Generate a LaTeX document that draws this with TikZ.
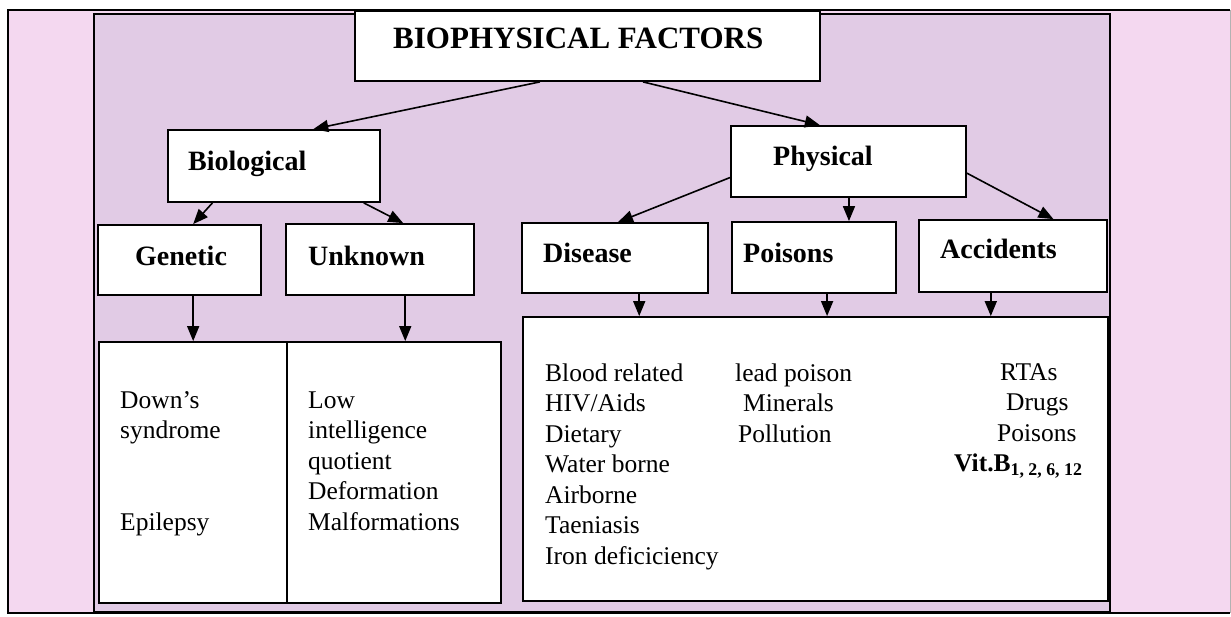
\documentclass[tikz,border=0pt]{standalone}
\usepackage{fontspec}
\setmainfont{Liberation Serif}
\usetikzlibrary{arrows.meta,calc}
\definecolor{pinkbg}{RGB}{244,216,240}
\definecolor{lavbg}{RGB}{225,203,229}
\begin{document}
\begin{tikzpicture}[x=1pt,y=-1pt,
  box/.style={draw=black, line width=1.8pt, fill=white, inner sep=0pt},
  lbl/.style={font=\fontsize{28}{32}\selectfont\bfseries, inner sep=0pt, anchor=base west},
  txt/.style={font=\fontsize{25.5}{30.5}\selectfont, inner sep=0pt, anchor=base west},
  arr/.style={line width=1.6pt, -{Triangle[length=15pt,width=12pt]}}]
\useasboundingbox (0,0) rectangle (1231,616);
\fill[white] (0,0) rectangle (1231,616);
\fill[pinkbg] (8,10) rectangle (1230,613);
\draw[black, line width=1.2pt] (1230,10) -- (8,10) -- (8,613) -- (1230,613);
\draw[gray!60, line width=0.8pt] (1230,10) -- (1230,613);
\filldraw[fill=lavbg, draw=black, line width=1.5pt] (94,14) rectangle (1110,612);

% boxes
\node[box, minimum width=465pt, minimum height=70pt] (title) at (587.5,46) {};
\node[box, minimum width=212pt, minimum height=72pt] (bio) at (274,166) {};
\node[box, minimum width=235pt, minimum height=71pt] (phys) at (848.5,161.5) {};
\node[box, minimum width=163pt, minimum height=70pt] (gen) at (179.5,260) {};
\node[box, minimum width=188pt, minimum height=71pt] (unk) at (380,259.5) {};
\node[box, minimum width=186pt, minimum height=70pt] (dis) at (615,258) {};
\node[box, minimum width=164pt, minimum height=71pt] (poi) at (814,257.5) {};
\node[box, minimum width=188pt, minimum height=72pt] (acc) at (1013,256) {};
\node[box, minimum width=402pt, minimum height=261pt] (bl) at (300,472.5) {};
\node[box, minimum width=585pt, minimum height=284pt] (br) at (815.5,459) {};
\draw[line width=1.5pt] ($(bl.north west)!0.468!(bl.north east)$) -- ($(bl.south west)!0.468!(bl.south east)$);

% labels
\node[lbl, font=\fontsize{31}{36}\selectfont\bfseries] (titlet) at (393,48) {BIOPHYSICAL FACTORS};
\node[lbl] (biot) at (188,170) {Biological};
\node[lbl] (physt) at (773,165) {Physical};
\node[lbl] (gent) at (135,265) {Genetic};
\node[lbl] (unkt) at (308,265) {Unknown};
\node[lbl] (dist) at (543,262) {Disease};
\node[lbl] (poit) at (743,262) {Poisons};
\node[lbl] (acct) at (940,258) {Accidents};

% lists
\node[txt] (downs) at (120,408) {\begin{tabular}[t]{@{}l@{}}Down's\\syndrome\\ \\ \\Epilepsy\end{tabular}};
\node[txt] (low) at (308,408) {\begin{tabular}[t]{@{}l@{}}Low\\intelligence\\quotient\\Deformation\\Malformations\end{tabular}};
\node[txt] (blood) at (545,381) {\begin{tabular}[t]{@{}l@{}}Blood related\\HIV/Aids\\Dietary\\Water borne\\Airborne\\Taeniasis\\Iron deficiciency\end{tabular}};
\node[txt] (lead) at (735,381) {\begin{tabular}[t]{@{}l@{}}lead poison\\\hspace*{8pt}Minerals\\\hspace*{3pt}Pollution\end{tabular}};
\node[txt] (rtas) at (954,380) {\begin{tabular}[t]{@{}l@{}}\hspace*{46pt}RTAs\\\hspace*{52pt}Drugs\\\hspace*{43pt}Poisons\\\textbf{Vit.B}\textsubscript{\textbf{1, 2, 6, 12}}\end{tabular}};

% connectors
\draw[arr] ($(title.south west)!0.398!(title.south east)$) -- ($(bio.north west)!0.684!(bio.north east)$);
\draw[arr] ($(title.south west)!0.619!(title.south east)$) -- ($(phys.north west)!0.379!(phys.north east)$);
\draw[arr] ($(bio.south west)!0.212!(bio.south east)$) -- ($(gen.north west)!0.583!(gen.north east)$);
\draw[arr] ($(bio.south west)!0.92!(bio.south east)$) -- ($(unk.north west)!0.622!(unk.north east)$);
\draw[arr] ($(phys.north west)!0.72!(phys.south west)$) -- ($(dis.north west)!0.516!(dis.north east)$);
\coordinate (pp) at ($(phys.south west)!0.502!(phys.south east)$);
\draw[arr] (pp) -- (pp |- poi.north);
\draw[arr] ($(phys.north east)!0.66!(phys.south east)$) -- ($(acc.north west)!0.713!(acc.north east)$);

\coordinate (ga) at ($(gen.south west)!0.583!(gen.south east)$);
\draw[arr] (ga) -- (ga |- bl.north);
\coordinate (ua) at ($(unk.south west)!0.633!(unk.south east)$);
\draw[arr] (ua) -- (ua |- bl.north);
\coordinate (da) at ($(dis.south west)!0.629!(dis.south east)$);
\draw[arr] (da) -- (da |- br.north);
\coordinate (pa) at ($(poi.south west)!0.579!(poi.south east)$);
\draw[arr] (pa) -- (pa |- br.north);
\coordinate (aa) at ($(acc.south west)!0.383!(acc.south east)$);
\draw[arr] (aa) -- (aa |- br.north);
\end{tikzpicture}
\end{document}
